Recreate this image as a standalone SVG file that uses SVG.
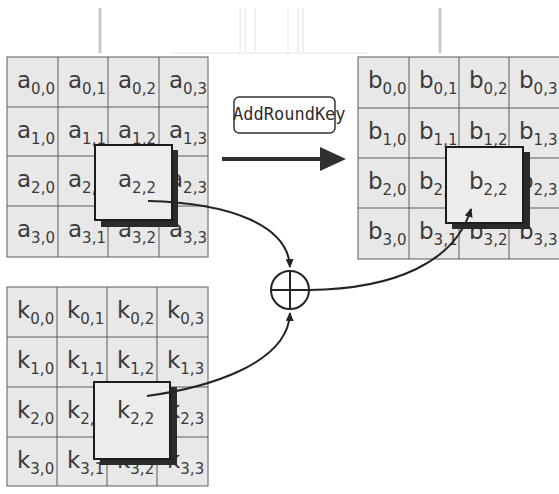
<svg xmlns="http://www.w3.org/2000/svg" width="559" height="494" viewBox="0 0 559 494">
  <style>
    .bg { fill: #e8e8e8; stroke: #5c5c5c; stroke-width: 1; }
    .gl { stroke: #5c5c5c; stroke-width: 1; fill: none; }
    .t { font-family: "DejaVu Sans", "Liberation Sans", sans-serif; font-size: 23px; fill: #3a3a3a; }
    .s { font-size: 15px; }
    .hl { fill: #ececec; stroke: #1c1c1c; stroke-width: 2; }
    .sh { fill: #2a2a2a; }
    .wire { fill: none; stroke: #232323; stroke-width: 2; marker-end: url(#tip); }
    .frame { stroke: #c8c8c8; stroke-width: 3; }
    .faint { stroke: #e4e4e4; stroke-width: 1; }
  </style>
  <defs>
    <marker id="tip" markerUnits="userSpaceOnUse" markerWidth="9" markerHeight="8" refX="8" refY="4" orient="auto">
      <path d="M0,0 L9,4 L0,8 z" fill="#232323"/>
    </marker>
  </defs>

  <rect width="559" height="494" fill="#ffffff"/>

  <!-- background frame lines at the top edge -->
  <g id="frame">
    <line class="frame" x1="100" y1="8" x2="100" y2="53"/>
    <line class="frame" x1="440" y1="8" x2="440" y2="53"/>
    <line class="faint" x1="240" y1="8" x2="240" y2="53"/>
    <line class="faint" x1="245" y1="8" x2="245" y2="53"/>
    <line class="faint" x1="255" y1="8" x2="255" y2="53"/>
    <line class="faint" x1="288" y1="8" x2="288" y2="53"/>
    <line class="faint" x1="298" y1="8" x2="298" y2="53"/>
    <line class="faint" x1="303" y1="8" x2="303" y2="53"/>
    <line class="faint" x1="173" y1="53" x2="368" y2="53"/>
  </g>

  <!-- state matrix a -->
  <g id="state-a">
    <rect class="bg" x="7" y="57" width="201" height="200"/>
    <path class="gl" d="M58,57V257M108,57V257M159,57V257M7,107H208M7,156H208M7,206H208"/>
    <text class="t" x="17" y="88">a<tspan class="s" dy="6">0,0</tspan></text>
    <text class="t" x="68" y="88">a<tspan class="s" dy="6">0,1</tspan></text>
    <text class="t" x="118" y="88">a<tspan class="s" dy="6">0,2</tspan></text>
    <text class="t" x="169" y="88">a<tspan class="s" dy="6">0,3</tspan></text>
    <text class="t" x="17" y="138">a<tspan class="s" dy="6">1,0</tspan></text>
    <text class="t" x="68" y="138">a<tspan class="s" dy="6">1,1</tspan></text>
    <text class="t" x="118" y="138">a<tspan class="s" dy="6">1,2</tspan></text>
    <text class="t" x="169" y="138">a<tspan class="s" dy="6">1,3</tspan></text>
    <text class="t" x="17" y="187">a<tspan class="s" dy="6">2,0</tspan></text>
    <text class="t" x="68" y="187">a<tspan class="s" dy="6">2,1</tspan></text>
    <text class="t" x="169" y="187">a<tspan class="s" dy="6">2,3</tspan></text>
    <text class="t" x="17" y="237">a<tspan class="s" dy="6">3,0</tspan></text>
    <text class="t" x="68" y="237">a<tspan class="s" dy="6">3,1</tspan></text>
    <text class="t" x="118" y="237">a<tspan class="s" dy="6">3,2</tspan></text>
    <text class="t" x="169" y="237">a<tspan class="s" dy="6">3,3</tspan></text>
  </g>
  <g id="a22">
    <rect class="sh" x="101" y="150" width="77" height="77"/>
    <rect class="hl" x="95" y="145" width="77" height="75"/>
    <text class="t" x="118" y="187">a<tspan class="s" dy="6">2,2</tspan></text>
  </g>

  <!-- state matrix b -->
  <g id="state-b">
    <rect class="bg" x="358" y="57" width="203" height="202"/>
    <path class="gl" d="M409,57V259M459,57V259M509,57V259M358,108H561M358,158H561M358,208H561"/>
    <text class="t" x="368" y="88">b<tspan class="s" dy="6">0,0</tspan></text>
    <text class="t" x="419" y="88">b<tspan class="s" dy="6">0,1</tspan></text>
    <text class="t" x="469" y="88">b<tspan class="s" dy="6">0,2</tspan></text>
    <text class="t" x="519" y="88">b<tspan class="s" dy="6">0,3</tspan></text>
    <text class="t" x="368" y="139">b<tspan class="s" dy="6">1,0</tspan></text>
    <text class="t" x="419" y="139">b<tspan class="s" dy="6">1,1</tspan></text>
    <text class="t" x="469" y="139">b<tspan class="s" dy="6">1,2</tspan></text>
    <text class="t" x="519" y="139">b<tspan class="s" dy="6">1,3</tspan></text>
    <text class="t" x="368" y="189">b<tspan class="s" dy="6">2,0</tspan></text>
    <text class="t" x="419" y="189">b<tspan class="s" dy="6">2,1</tspan></text>
    <text class="t" x="519" y="189">b<tspan class="s" dy="6">2,3</tspan></text>
    <text class="t" x="368" y="239">b<tspan class="s" dy="6">3,0</tspan></text>
    <text class="t" x="419" y="239">b<tspan class="s" dy="6">3,1</tspan></text>
    <text class="t" x="469" y="239">b<tspan class="s" dy="6">3,2</tspan></text>
    <text class="t" x="519" y="239">b<tspan class="s" dy="6">3,3</tspan></text>
  </g>
  <g id="b22">
    <rect class="sh" x="452" y="152" width="78" height="77"/>
    <rect class="hl" x="446" y="147" width="77" height="76"/>
    <text class="t" x="469" y="189">b<tspan class="s" dy="6">2,2</tspan></text>
  </g>

  <!-- round key matrix k -->
  <g id="round-key">
    <rect class="bg" x="7" y="287" width="201" height="199"/>
    <path class="gl" d="M57,287V486M107,287V486M157,287V486M7,337H208M7,387H208M7,437H208"/>
    <text class="t" x="17" y="318">k<tspan class="s" dy="6">0,0</tspan></text>
    <text class="t" x="67" y="318">k<tspan class="s" dy="6">0,1</tspan></text>
    <text class="t" x="117" y="318">k<tspan class="s" dy="6">0,2</tspan></text>
    <text class="t" x="167" y="318">k<tspan class="s" dy="6">0,3</tspan></text>
    <text class="t" x="17" y="368">k<tspan class="s" dy="6">1,0</tspan></text>
    <text class="t" x="67" y="368">k<tspan class="s" dy="6">1,1</tspan></text>
    <text class="t" x="117" y="368">k<tspan class="s" dy="6">1,2</tspan></text>
    <text class="t" x="167" y="368">k<tspan class="s" dy="6">1,3</tspan></text>
    <text class="t" x="17" y="418">k<tspan class="s" dy="6">2,0</tspan></text>
    <text class="t" x="67" y="418">k<tspan class="s" dy="6">2,1</tspan></text>
    <text class="t" x="167" y="418">k<tspan class="s" dy="6">2,3</tspan></text>
    <text class="t" x="17" y="468">k<tspan class="s" dy="6">3,0</tspan></text>
    <text class="t" x="67" y="468">k<tspan class="s" dy="6">3,1</tspan></text>
    <text class="t" x="117" y="468">k<tspan class="s" dy="6">3,2</tspan></text>
    <text class="t" x="167" y="468">k<tspan class="s" dy="6">3,3</tspan></text>
  </g>
  <g id="k22">
    <rect class="sh" x="100" y="387" width="77" height="78"/>
    <rect class="hl" x="94" y="382" width="76" height="77"/>
    <text class="t" x="117" y="418">k<tspan class="s" dy="6">2,2</tspan></text>
  </g>

  <!-- operation label -->
  <g id="add-round-key">
    <rect x="234" y="97" width="101" height="36" rx="5" fill="#ffffff" stroke="#333333" stroke-width="1.5"/>
    <text x="233" y="120" font-family="DejaVu Sans Mono, Liberation Mono, monospace" font-size="17" fill="#2e2e2e">AddRoundKey</text>
  </g>

  <!-- XOR operator -->
  <g id="xor">
    <circle cx="290" cy="290" r="19" fill="#ffffff" stroke="#232323" stroke-width="2"/>
    <path d="M271,290H309M290,271V309" stroke="#232323" stroke-width="2" fill="none"/>
  </g>

  <g id="connectors">
    <line x1="222" y1="159" x2="322" y2="159" stroke="#303030" stroke-width="4"/>
    <polygon points="320,147 346,159 320,171" fill="#303030"/>
    <path class="wire" d="M148,201 C230,203 288,225 290,267"/>
    <path class="wire" d="M147,396 C205,388 288,365 290,313"/>
    <path class="wire" d="M309,290 C395,289 455,262 471,209"/>
  </g>
</svg>
